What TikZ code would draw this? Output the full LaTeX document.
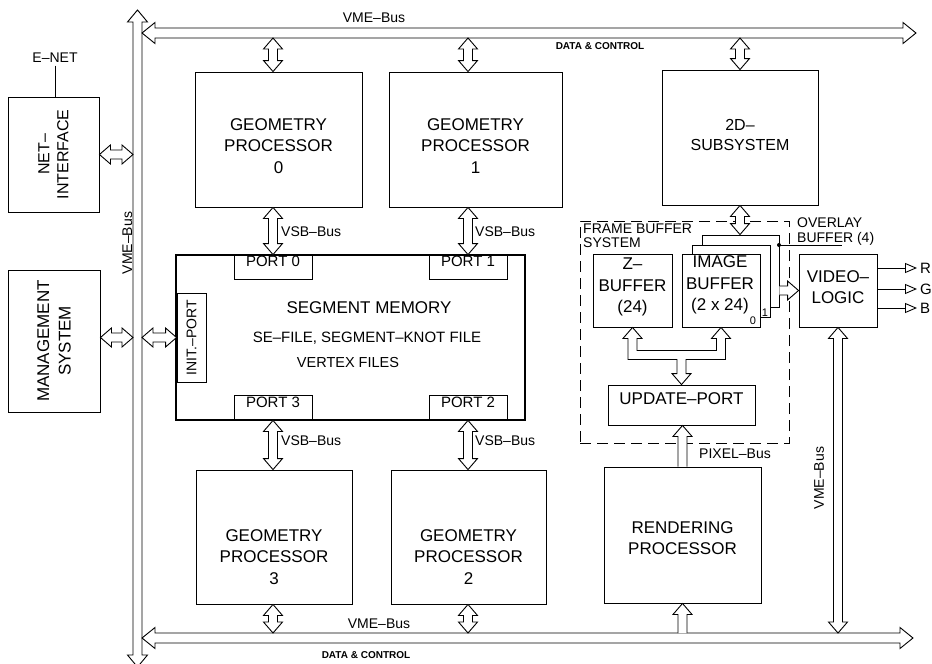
\documentclass[tikz,border=0pt]{standalone}
\usepackage{fontspec}
\setmainfont{Liberation Sans}
\usetikzlibrary{calc,fit,arrows.meta}

% shaft half-width, head half-width and head length of the hollow bus arrows
\newcommand\fS{4.5pt}
\newcommand\fH{9.5pt}
\newcommand\fL{11pt}

% hollow arrow with a head at both ends, from #1 to #2
\newcommand\fatboth[2]{%
  \draw[fat] #1
    -- ($($#1!\fL!#2$)!\fH!90:#2$)
    -- ($($#1!\fL!#2$)!\fS!90:#2$)
    -- ($($#2!\fL!#1$)!\fS!-90:#1$)
    -- ($($#2!\fL!#1$)!\fH!-90:#1$)
    -- #2
    -- ($($#2!\fL!#1$)!\fH!90:#1$)
    -- ($($#2!\fL!#1$)!\fS!90:#1$)
    -- ($($#1!\fL!#2$)!\fS!-90:#2$)
    -- ($($#1!\fL!#2$)!\fH!-90:#2$)
    -- cycle;}

% hollow arrow with an open base at #1 and a head at #2
\newcommand\fatone[2]{%
  \draw[fat] ($#1!\fS!90:#2$)
    -- ($($#2!\fL!#1$)!\fS!-90:#1$)
    -- ($($#2!\fL!#1$)!\fH!-90:#1$)
    -- #2
    -- ($($#2!\fL!#1$)!\fH!90:#1$)
    -- ($($#2!\fL!#1$)!\fS!90:#1$)
    -- ($#1!\fS!-90:#2$);}

\tikzset{
  blk/.style={draw, line width=0.9pt, fill=white, inner sep=0pt},
  fat/.style={draw, line width=0.9pt, fill=white, line join=miter},
  txt/.style={inner sep=0pt, align=center, font=\fontsize{17}{21.5}\selectfont},
  mid/.style={inner sep=0pt, align=center, font=\fontsize{15}{17}\selectfont},
  sml/.style={inner sep=0pt, align=left, font=\fontsize{14}{15}\selectfont},
  tag/.style={inner sep=0pt, font=\bfseries\fontsize{10}{12}\selectfont},
  wire/.style={line width=0.9pt},
  sig/.style={line width=0.9pt, -{Triangle[open, length=12pt, width=10pt]}},
  fbsys/.style={draw, line width=0.9pt, dash pattern=on 11pt off 6pt, inner sep=0pt},
}

\begin{document}
\begin{tikzpicture}[x=1pt, y=-1pt]
\useasboundingbox (0,0) rectangle (932,664);

% ---------------- system buses
\coordinate (vbtop) at (137.5,10);
\coordinate (vbbot) at (137.5,667);
\coordinate (vbl) at (133,0);
\coordinate (vbr) at (142,0);
\coordinate (tbl) at (142,33);
\coordinate (tbr) at (916,33);
\coordinate (tbs) at (0,38);
\coordinate (bbl) at (142,638);
\coordinate (bbr) at (913,638);
\coordinate (bbn) at (0,633);
\begingroup
\renewcommand\fS{4.5pt}\renewcommand\fH{10pt}\renewcommand\fL{12pt}
\fatboth{(vbtop)}{(vbbot)}
\renewcommand\fS{5pt}\renewcommand\fH{10.5pt}\renewcommand\fL{13pt}
\fatboth{(tbl)}{(tbr)}
\fatboth{(bbl)}{(bbr)}
\endgroup

\node[sml] (vmetop) at (374,18) {VME–Bus};
\node[tag] (dctop) at (600,46) {DATA \& CONTROL};
\node[sml] (vmebot) at (379,624) {VME–Bus};
\node[tag] (dcbot) at (366,655) {DATA \& CONTROL};
\node[sml, rotate=90] (vmeleft) at (127.5,243) {VME–Bus};

% ---------------- host side
\node[blk, fit={(8,97) (99,212)}] (netif) {};
\node[txt, rotate=90, font=\fontsize{16}{19}\selectfont] (netift) at (netif.center) {NET–\\INTERFACE};
\node[sml, inner sep=2.5pt] (enet) at (55,58) {E–NET};
\draw[wire] (enet.south) -- (enet.south |- netif.north);
\node[blk, fit={(8,270) (100,412)}] (mgmt) {};
\node[txt, rotate=90] (mgmtt) at (mgmt.center) {MANAGEMENT\\SYSTEM};

% ---------------- geometry processors
\node[blk, fit={(195,72) (362,207)}] (gp0) {};
\node[txt] (gp0t) at (278.5,146) {GEOMETRY\\PROCESSOR\\0};
\node[blk, fit={(389,72) (562,207)}] (gp1) {};
\node[txt] (gp1t) at (475.5,146) {GEOMETRY\\PROCESSOR\\1};
\node[blk, fit={(196,470) (352,604)}] (gp3) {};
\node[txt] (gp3t) at (274,557) {GEOMETRY\\PROCESSOR\\3};
\node[blk, fit={(391,470) (546,604)}] (gp2) {};
\node[txt] (gp2t) at (468.5,557) {GEOMETRY\\PROCESSOR\\2};

% ---------------- segment memory
\node[fill=white, inner sep=0pt, fit={(176,255) (525,420)}] (segmem) {};
\node[blk, mid, fit={(234,255) (312,279)}] (port0) {PORT 0};
\node[blk, mid, fit={(429,255) (507,279)}] (port1) {PORT 1};
\node[blk, mid, fit={(234,395) (312,420)}] (port3) {PORT 3};
\node[blk, mid, fit={(429,395) (507,420)}] (port2) {PORT 2};
\node[blk, fit={(177,293) (206,382)}] (init) {};
\node[sml, rotate=90] (initt) at (init.center) {INIT.–PORT};
\draw[line width=1.8pt] (segmem.north west) rectangle (segmem.south east);
\node[txt] (segt) at (369,308) {SEGMENT MEMORY};
\node[mid] (segf) at (367,338) {SE–FILE, SEGMENT–KNOT FILE};
\node[mid, font=\fontsize{14.5}{17}\selectfont] (segv) at (348,363) {VERTEX FILES};

% ---------------- 2D subsystem
\node[blk, fit={(662,70) (818,205)}] (sub2d) {};
\node[txt, font=\fontsize{16}{20.5}\selectfont] (sub2dt) at (740,135) {2D–\\SUBSYSTEM};

% ---------------- frame buffer system
\node[fbsys, fit={(580,221) (789,443)}] (fbs) {};
\node[sml, anchor=north west, font=\fontsize{14}{14}\selectfont] (fbst) at (583,224) {FRAME BUFFER\\SYSTEM};
\node[blk, fit={(593,254) (672,327)}] (zbuf) {};
\node[txt] (zbuft) at (632.5,287) {Z–\\BUFFER\\(24)};
\node[blk, fit={(702,235) (779,307)}] (pgC) {};
\node[blk, fit={(692,245) (770,317)}] (pgB) {};
\node[blk, fit={(682,254) (760,327)}] (ibuf) {};
\node[txt] (ibuft) at (720,285) {IMAGE\\BUFFER\\(2 x 24)};
\node[inner sep=0pt, font=\fontsize{11}{12}\selectfont] (pg0) at (753,321) {0};
\node[inner sep=0pt, font=\fontsize{11}{12}\selectfont] (pg1) at (765,313) {1};
\node[blk, txt, fit={(608,385) (755,425)}] (upd) {UPDATE–PORT};

% overlay buffer tap
\coordinate (ovdot) at (779,245);
\coordinate (ovend) at (842,245);
\draw[wire] (ovdot) -- (ovend);
\fill (ovdot) circle (2pt);
\node[sml, anchor=north west] (ovl) at (797,218) {OVERLAY\\BUFFER (4)};

% ---------------- video logic and outputs
\node[blk, fit={(799,254) (877,327)}] (vlog) {};
\node[txt] (vlogt) at (838,287) {VIDEO–\\LOGIC};
\node[inner sep=3pt, anchor=west, font=\fontsize{15}{15}\selectfont] (outR) at (917,268) {R};
\node[inner sep=3pt, anchor=west, font=\fontsize{15}{15}\selectfont] (outG) at (917,289) {G};
\node[inner sep=3pt, anchor=west, font=\fontsize{15}{15}\selectfont] (outB) at (917,308) {B};
\draw[sig] (vlog.east |- outR.west) -- (outR.west);
\draw[sig] (vlog.east |- outG.west) -- (outG.west);
\draw[sig] (vlog.east |- outB.west) -- (outB.west);

% ---------------- rendering processor
\node[blk, fit={(604,467) (761,603)}] (rend) {};
\node[txt] (rendt) at (682.5,538) {RENDERING\\PROCESSOR};

% ---------------- bus connections
\fatboth{(port0.north |- tbs)}{(port0.north |- gp0.north)}
\fatboth{(port1.north |- tbs)}{(port1.north |- gp1.north)}
\fatboth{(sub2d.north |- tbs)}{(sub2d.north)}
\fatboth{(port0.north |- gp0.south)}{(port0.north)}
\fatboth{(port1.north |- gp1.south)}{(port1.north)}
\fatboth{(port3.south)}{(port3.south |- gp3.north)}
\fatboth{(port2.south)}{(port2.south |- gp2.north)}
\fatboth{(port3.south |- gp3.south)}{(port3.south |- bbn)}
\fatboth{(port2.south |- gp2.south)}{(port2.south |- bbn)}
\fatone{(rend.south |- bbn)}{(rend.south)}
\fatone{(rend.north)}{(rend.north |- upd.south)}
\fatboth{(vlog.south)}{(vlog.south |- bbn)}
\fatboth{(sub2d.south)}{(sub2d.south |- pgC.north)}
\fatone{(pgC.east |- vlog.west)}{(vlog.west)}
\fatboth{(netif.east)}{(netif.east -| vbl)}
\fatboth{(mgmt.east |- init.west)}{(vbl |- init.west)}
\fatboth{(vbr |- init.west)}{(init.west)}

% Z-buffer and image buffer share the update port
\draw[fat] let \p1=(zbuf.south), \p2=(ibuf.south), \p3=(upd.north) in
  (\x1,\y1) -- (\x1+9.5pt,\y1-11pt) -- (\x1+4.5pt,\y1-11pt) -- (\x1+4.5pt,\y1-23pt)
  -- (\x2-4.5pt,\y1-23pt) -- (\x2-4.5pt,\y2-11pt) -- (\x2-9.5pt,\y2-11pt) -- (\x2,\y2)
  -- (\x2+9.5pt,\y2-11pt) -- (\x2+4.5pt,\y2-11pt) -- (\x2+4.5pt,\y1-32pt)
  -- (\x3+4.5pt,\y1-32pt) -- (\x3+4.5pt,\y3+11pt) -- (\x3+9.5pt,\y3+11pt) -- (\x3,\y3)
  -- (\x3-9.5pt,\y3+11pt) -- (\x3-4.5pt,\y3+11pt) -- (\x3-4.5pt,\y1-32pt)
  -- (\x1-4.5pt,\y1-32pt) -- (\x1-4.5pt,\y1-11pt) -- (\x1-9.5pt,\y1-11pt) -- cycle;

% ---------------- bus labels
\node[sml, anchor=west] (vsb0) at (281,232) {VSB–Bus};
\node[sml, anchor=west] (vsb1) at (475,232) {VSB–Bus};
\node[sml, anchor=west] (vsb3) at (281,441) {VSB–Bus};
\node[sml, anchor=west] (vsb2) at (475,441) {VSB–Bus};
\node[sml, anchor=west] (pixl) at (699,454) {PIXEL–Bus};
\node[sml, rotate=90] (vmev) at (819,478) {VME–Bus};
\end{tikzpicture}
\end{document}
